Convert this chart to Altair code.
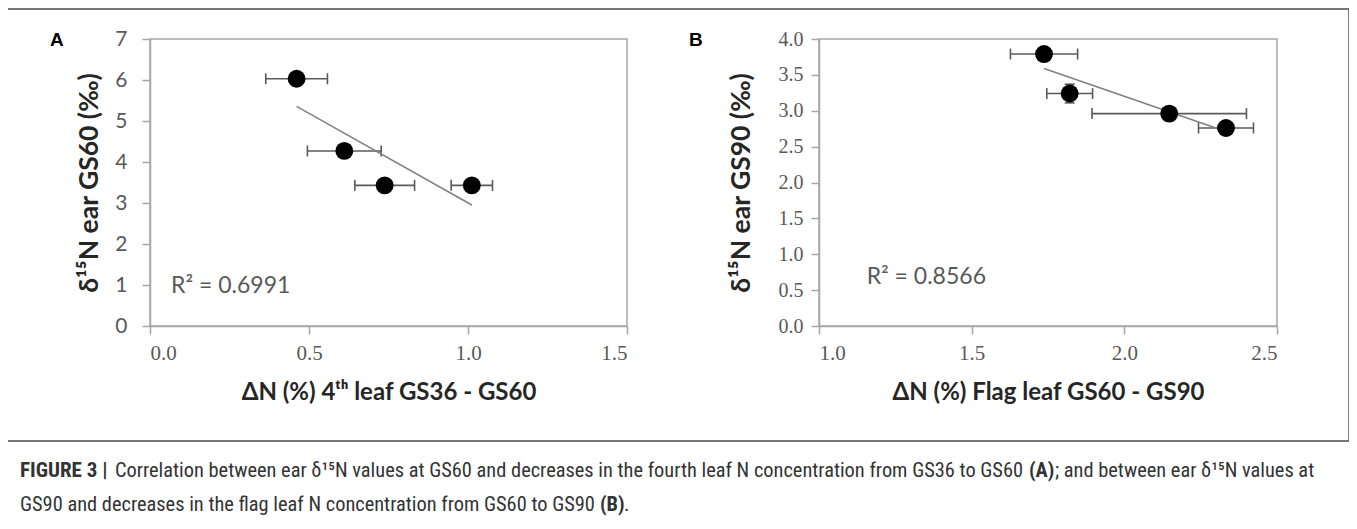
import altair as alt
import pandas as pd

# ---------------- data ----------------
# Panel A: ear d15N at GS60 vs decrease in 4th leaf N (GS36 - GS60)
a_x = [0.461, 0.611, 0.738, 1.012]
a_y = [6.03, 4.27, 3.43, 3.43]
a_xerr = [0.097, 0.116, 0.094, 0.065]
a_r2 = "R² = 0.6991"

# Panel B: ear d15N at GS90 vs decrease in flag leaf N (GS60 - GS90)
b_x = [1.737, 1.821, 2.147, 2.333]
b_y = [3.79, 3.24, 2.96, 2.76]
b_xerr = [0.11, 0.075, 0.253, 0.09]
b_yerr = [0.0, 0.13, 0.0, 0.0]
b_r2 = "R² = 0.8566"

a_xticks = [0.0, 0.5, 1.0, 1.5]
a_yticks = [0, 1, 2, 3, 4, 5, 6, 7]
b_xticks = [1.0, 1.5, 2.0, 2.5]
b_yticks = [0.0, 0.5, 1.0, 1.5, 2.0, 2.5, 3.0, 3.5, 4.0]

a_xtitle = "ΔN (%) 4ᵗʰ leaf GS36 - GS60"
a_ytitle = "δ¹⁵N ear GS60 (‰)"
b_xtitle = "ΔN (%) Flag leaf GS60 - GS90"
b_ytitle = "δ¹⁵N ear GS90 (‰)"

dfA = pd.DataFrame({"x": a_x, "y": a_y, "err": a_xerr})
dfA["lo"] = dfA["x"] - dfA["err"]
dfA["hi"] = dfA["x"] + dfA["err"]
dfB = pd.DataFrame({"x": b_x, "y": b_y, "err": b_xerr, "yerr": b_yerr})
dfB["lo"] = dfB["x"] - dfB["err"]
dfB["hi"] = dfB["x"] + dfB["err"]
dfB["ylo"] = dfB["y"] - dfB["yerr"]
dfB["yhi"] = dfB["y"] + dfB["yerr"]
one = pd.DataFrame({"k": [0]})

# ---------------- styles ----------------
AXIS_GRAY = "#a6a6a6"
LABEL_GRAY = "#595959"
TITLE_COL = "#262626"
ERR_COL = "#5a5a5a"
TITLE_FONT = "Lato"
SERIF = "Liberation Serif"
PT_SIZE = 320
H = 287

common_axis = dict(
    grid=False, domainColor=AXIS_GRAY, domainWidth=1.5, tickColor=AXIS_GRAY,
    tickWidth=1.5, tickSize=8, labelColor=LABEL_GRAY, titleFont=TITLE_FONT,
    titleFontWeight="bold", titleColor=TITLE_COL, titleBaseline="middle",
)

# Panel A scales/axes
sAx = alt.Scale(domain=[0, 1.5], range=[0, 477], nice=False, zero=False)
sAy = alt.Scale(domain=[0, 7], nice=False)
axAx = alt.Axis(orient="bottom", values=a_xticks, format=".1f", title=a_xtitle,
                labelFont=SERIF, labelFontSize=21, labelPadding=8, titleY=66,
                titleFontSize=24, **common_axis)
axAy = alt.Axis(orient="left", values=a_yticks, format="d", title=a_ytitle,
                labelFont=TITLE_FONT, labelFontSize=21, labelPadding=15,
                titleX=-61, titleFontSize=26.5, **common_axis)

# Panel B scales/axes
sBx = alt.Scale(domain=[1.0, 2.5], range=[669, 1127], nice=False, zero=False)
sBy = alt.Scale(domain=[0, 4], nice=False)
axBx = alt.Axis(orient="bottom", values=b_xticks, format=".1f", title=b_xtitle,
                labelFont=SERIF, labelFontSize=21, labelPadding=8, titleY=66,
                titleFontSize=24, **common_axis)
axBy = alt.Axis(orient="left", values=b_yticks, format=".1f", title=b_ytitle,
                labelFont=SERIF, labelFontSize=20, labelPadding=8, offset=-669,
                titleX=-78, titleFontSize=26.5, **common_axis)


def panel(df, sx, sy, ax, ay, xdom, ydom, r2text, r2x, r2y, vert=False):
    X = lambda f: alt.X(f"{f}:Q", scale=sx, axis=ax)
    Y = lambda f: alt.Y(f"{f}:Q", scale=sy, axis=ay)
    frame = alt.Chart(one).mark_rect(fillOpacity=0, stroke=AXIS_GRAY, strokeWidth=1.5).encode(
        x=alt.XDatum(xdom[0], scale=sx, axis=ax, type="quantitative"),
        x2=alt.X2Datum(xdom[1]),
        y=alt.YDatum(ydom[0], scale=sy, axis=ay, type="quantitative"),
        y2=alt.Y2Datum(ydom[1]),
    )
    bars = alt.Chart(df).mark_rule(color=ERR_COL, strokeWidth=1.6).encode(
        x=X("lo"), x2="hi", y=Y("y"))
    caps = alt.Chart(df).transform_fold(["lo", "hi"], as_=["end", "xe"]).mark_rule(
        color=ERR_COL, strokeWidth=1.6, yOffset=-5.5, y2Offset=5.5).encode(
        x=X("xe"), y=Y("y"), y2="y")
    layers = [frame, bars, caps]
    if vert:
        vdf = alt.Chart(df).transform_filter("datum.yerr > 0")
        layers.append(vdf.mark_rule(color=ERR_COL, strokeWidth=1.6).encode(
            x=X("x"), y=Y("ylo"), y2="yhi"))
        layers.append(vdf.transform_fold(["ylo", "yhi"], as_=["end", "ye"]).mark_rule(
            color=ERR_COL, strokeWidth=1.6, xOffset=-5, x2Offset=5).encode(
            x=X("x"), x2="x", y=Y("ye")))
    trend = alt.Chart(df).transform_regression("x", "y").mark_line(
        color="#808080", strokeWidth=1.5).encode(x=X("x"), y=Y("y"))
    pts = alt.Chart(df).mark_circle(size=PT_SIZE, color="black", opacity=1).encode(
        x=X("x"), y=Y("y"))
    r2 = alt.Chart(one).mark_text(align="left", baseline="middle", font=TITLE_FONT,
                                  fontSize=23, color=LABEL_GRAY).encode(
        x=alt.XDatum(r2x, scale=sx, axis=ax, type="quantitative"),
        y=alt.YDatum(r2y, scale=sy, axis=ay, type="quantitative"),
        text=alt.value(r2text))
    layers += [trend, pts, r2]
    return alt.layer(*layers)


panelA = panel(dfA, sAx, sAy, axAx, axAy, [0, 1.5], [0, 7], a_r2, 0.066, 0.97)
panelB = panel(dfB, sBx, sBy, axBx, axBy, [1.0, 2.5], [0, 4], b_r2, 1.156, 0.68, vert=True)

# ---------------- decoration: outer frame, panel letters, caption ----------------
outer = alt.Chart(one).mark_rect(fillOpacity=0, stroke="#4a4a4a", strokeWidth=1.4).encode(
    x=alt.value(-143), x2=alt.value(1199), y=alt.value(-30), y2=alt.value(402))

CAP_FONT = "Liberation Sans Narrow, Roboto Condensed, DejaVu Sans Condensed, sans-serif"


def txt(s, x, y, bold=False, size=20.4, font=CAP_FONT, color="#333333"):
    return alt.Chart(one).mark_text(align="left", baseline="middle", font=font,
                                    fontSize=size, fontWeight="bold" if bold else "normal",
                                    color=color).encode(
        x=alt.value(x), y=alt.value(y), text=alt.value(s))


letters = [
    txt("A", -100, 1, bold=True, size=19, font="Liberation Sans", color="black"),
    txt("B", 539, 1, bold=True, size=19, font="Liberation Sans", color="black"),
]
L1, L2 = 432, 466
caption = [
    txt("FIGURE 3 |", -130, L1, bold=True, size=21),
    txt("Correlation between ear δ¹⁵N values at GS60 and decreases in the fourth leaf N concentration from GS36 to GS60", -35, L1),
    txt("(A)", 879, L1, bold=True),
    txt("; and between ear δ¹⁵N values at", 905, L1),
    txt("GS90 and decreases in the flag leaf N concentration from GS60 to GS90", -130, L2),
    txt("(B)", 450, L2, bold=True),
    txt(".", 474, L2),
]

chart = alt.layer(panelA, panelB, outer, *letters, *caption).resolve_scale(
    x="independent", y="independent"
).properties(
    width=1127, height=H,
    autosize=alt.AutoSizeParams(type="none"),
    padding={"left": 142, "top": 31, "right": 72, "bottom": 195},
).configure_view(strokeWidth=0)

chart.save("out.html", embed_options={"renderer": "svg", "actions": False})
